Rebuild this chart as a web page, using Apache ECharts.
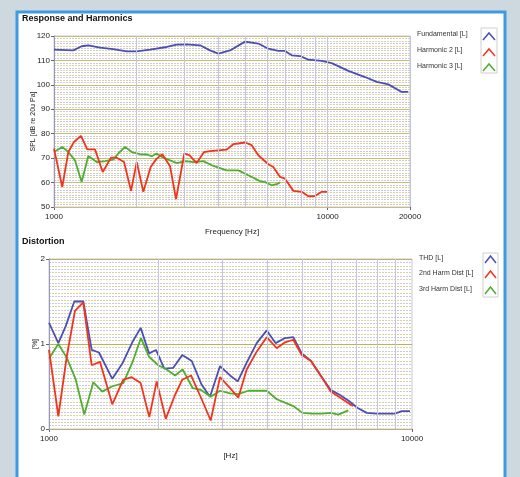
<!DOCTYPE html>
<html>
<head>
<meta charset="utf-8">
<script src="https://cdn.jsdelivr.net/npm/echarts@6/dist/echarts.min.js"></script>
<style>
html,body{margin:0;padding:0;background:#cdd8df;}
#c{width:520px;height:477px;}
</style>
</head>
<body>
<div id="c"></div>
<script>
// ---------- Response and Harmonics ----------
const fundFreq = [1000,1176,1262,1335,1473,1647,1844,2006,2243,2582,2809,3055,3418,3717,3986,4398,4990,5580,6072,6605,6988,7393,7930,8503,9515,10350,11905,13700,15120,16670,18660,19720];
const fundSpl  = [114.4,114.1,115.8,116.2,115.2,114.6,113.7,113.7,114.4,115.5,116.5,116.6,116.2,114.1,112.8,114.1,117.7,116.9,114.8,113.9,113.9,112.1,111.8,110.3,109.8,108.9,105.7,103.2,101.2,100.2,97.1,97.1];

const h2Freq = [1000,1072,1128,1183,1255,1323,1412,1507,1616,1695,1803,1912,2006,2121,2256,2373,2488,2655,2792,2995,3123,3324,3533,3717,4278,4522,4717,4990,5280,5580,6072,6333,6699,6988,7491,8042,8503,8994,9515,9975];
const h2Spl  = [73.9,58.2,72.5,76.6,79.1,73.6,73.6,64.3,70.2,70.2,68.4,56.6,68.4,56.2,66.4,69.8,71.6,66.7,53.2,71.9,71.2,68.0,72.5,72.9,73.5,75.7,76.0,76.4,75.3,71.2,67.5,66.4,62.3,61.6,56.6,56.2,54.4,54.5,56.2,56.2];

const h3Freq = [1000,1072,1128,1193,1262,1335,1432,1536,1647,1718,1818,1923,2062,2183,2276,2373,2509,2655,2809,3013,3230,3513,3822,4278,4717,5131,5661,5906,6248,6605,6699];
const h3Spl  = [72.5,74.6,72.5,69.1,60.2,70.9,68.4,68.8,69.4,71.9,74.6,72.5,71.6,71.5,70.8,71.9,70.2,69.1,68.0,68.8,68.4,68.8,66.8,65.0,65.0,63.0,60.6,60.2,58.9,59.6,60.2];

const topYTicks = [50,60,70,80,90,100,110,120];
const topXTicks = [1000,10000,20000];
const topVGrid = [2000,3000,4000,5000,6000,7000,8000,9000,10000,20000];

// ---------- Distortion ----------
const thdFreq = [1000,1061,1112,1174,1243,1311,1373,1494,1592,1696,1789,1886,1971,2078,2200,2329,2473,2634,2777,2959,3153,3311,3504,3734,3979,4212,4468,4710,4968,5270,5604,5970,6334,6706,7069,7502,7992,8978,9368,9874];
const thdPct  = [1.25,1.01,1.21,1.50,1.50,0.93,0.90,0.59,0.77,1.02,1.19,0.89,0.93,0.71,0.72,0.87,0.80,0.52,0.38,0.74,0.63,0.56,0.78,1.01,1.16,1.01,1.07,1.08,0.89,0.80,0.63,0.46,0.40,0.33,0.25,0.19,0.18,0.18,0.21,0.21];

const d2Freq = [1000,1061,1119,1179,1243,1311,1382,1494,1602,1690,1789,1889,1980,2097,2224,2329,2462,2634,2789,2959,3153,3324,3504,3734,3979,4240,4468,4710,4968,5270,5640,5970,6334,6749,6892];
const d2Pct  = [0.93,0.15,0.85,1.39,1.49,0.75,0.79,0.29,0.58,0.61,0.54,0.14,0.56,0.12,0.40,0.58,0.63,0.35,0.10,0.61,0.48,0.37,0.70,0.91,1.08,0.95,1.02,1.05,0.87,0.80,0.61,0.44,0.37,0.29,0.27];

const d3Freq = [1000,1061,1119,1185,1251,1325,1402,1489,1602,1696,1792,1886,2000,2110,2224,2335,2489,2623,2789,2959,3153,3324,3540,3734,3979,4240,4468,4710,4987,5293,5640,5983,6266,6677];
const d3Pct  = [0.83,1.00,0.84,0.58,0.17,0.55,0.44,0.50,0.54,0.78,1.07,0.85,0.75,0.70,0.63,0.70,0.48,0.46,0.38,0.45,0.42,0.41,0.45,0.45,0.45,0.35,0.31,0.27,0.19,0.18,0.18,0.19,0.17,0.22];

const botXTicks = [1000,10000];
const botVGrid = [2000,3000,4000,5000,6000,7000,8000,9000];

const zip = (a,b) => a.map((v,i)=>[v,b[i]]);

const C_BLUE = '#4b4fb4', C_RED = '#f2341e', C_GREEN = '#4fae32';
const FONT = 'Liberation Sans';
const txt = {fontFamily: FONT, fontSize: 8, color: '#222'};

function xAx(gi, ticks, maxV, name, gap){
  return {
    type:'log', logBase:10, gridIndex:gi, min:1000, max:maxV,
    name:name, nameLocation:'middle', nameGap:gap,
    nameTextStyle:{fontFamily:FONT,fontSize:8,color:'#222'},
    axisLine:{show:true,lineStyle:{color:'#9a9ab8',width:1}},
    axisTick:{show:true,length:3,lineStyle:{color:'#666'}},
    axisLabel:Object.assign({margin:6,formatter:v=>String(Math.round(v)),
      showMinLabel:true,showMaxLabel:true}, txt),
    splitLine:{show:false}
  };
}

function vLines(arr, color){
  return {
    silent:true, symbol:'none', animation:false,
    label:{show:false},
    lineStyle:{color:color,width:1,type:'solid'},
    data: arr.map(v=>({xAxis:v}))
  };
}

const chart = echarts.init(document.getElementById('c'), null, {renderer:'canvas'});
chart.setOption({
  animation:false,
  backgroundColor:'#cdd8df',
  graphic:[
    {type:'rect', z:-10, shape:{x:17,y:12,width:488,height:480},
     style:{fill:'#ffffff',stroke:'#3f9ae2',lineWidth:3}},
    {type:'text', left:22, top:14, style:{text:'Response and Harmonics',fontFamily:FONT,fontSize:9,fontWeight:'bold',fill:'#111'}},
    {type:'text', left:22, top:237, style:{text:'Distortion',fontFamily:FONT,fontSize:9,fontWeight:'bold',fill:'#111'}},
    // legend top
    {type:'rect', shape:{x:481,y:28,width:16,height:45}, style:{fill:'#fff',stroke:'#cfcfcf',lineWidth:1}},
    {type:'text', left:417, top:31, style:{text:'Fundamental [L]',fontFamily:FONT,fontSize:7,fill:'#333'}},
    {type:'text', left:417, top:47, style:{text:'Harmonic 2 [L]',fontFamily:FONT,fontSize:7,fill:'#333'}},
    {type:'text', left:417, top:63, style:{text:'Harmonic 3 [L]',fontFamily:FONT,fontSize:7,fill:'#333'}},
    {type:'polyline', shape:{points:[[483,40],[489,33],[495,40]]}, style:{stroke:C_BLUE,lineWidth:1.5,fill:null}},
    {type:'polyline', shape:{points:[[483,56],[489,49],[495,56]]}, style:{stroke:C_RED,lineWidth:1.5,fill:null}},
    {type:'polyline', shape:{points:[[483,71],[489,64],[495,71]]}, style:{stroke:C_GREEN,lineWidth:1.5,fill:null}},
    // legend bottom
    {type:'rect', shape:{x:483,y:253,width:15,height:44}, style:{fill:'#fff',stroke:'#cfcfcf',lineWidth:1}},
    {type:'text', left:419, top:255, style:{text:'THD [L]',fontFamily:FONT,fontSize:7,fill:'#333'}},
    {type:'text', left:419, top:270, style:{text:'2nd Harm Dist [L]',fontFamily:FONT,fontSize:7,fill:'#333'}},
    {type:'text', left:419, top:286, style:{text:'3rd Harm Dist [L]',fontFamily:FONT,fontSize:7,fill:'#333'}},
    {type:'polyline', shape:{points:[[485,263],[490.5,256],[496,263]]}, style:{stroke:C_BLUE,lineWidth:1.5,fill:null}},
    {type:'polyline', shape:{points:[[485,278],[490.5,271],[496,278]]}, style:{stroke:C_RED,lineWidth:1.5,fill:null}},
    {type:'polyline', shape:{points:[[485,294],[490.5,287],[496,294]]}, style:{stroke:C_GREEN,lineWidth:1.5,fill:null}}
  ],
  grid:[
    {left:54, top:36, width:356, height:171, show:true, borderColor:'#c8c8e0', borderWidth:1, backgroundColor:'transparent'},
    {left:49, top:259, width:363, height:170, show:true, borderColor:'#c8c8e0', borderWidth:1, backgroundColor:'transparent'}
  ],
  xAxis:[
    xAx(0, topXTicks, 20000, 'Frequency [Hz]', 21),
    xAx(1, botXTicks, 10000, '[Hz]', 23)
  ],
  yAxis:[
    // hidden fine grid, top
    {type:'value', gridIndex:0, position:'left', min:50, max:120, interval:1, z:0,
     axisLine:{show:false}, axisTick:{show:false}, axisLabel:{show:false},
     splitLine:{show:true,lineStyle:{color:['#d9d49a','#c9c9e6'],width:1,type:[2,1]}}},
    // main top
    {type:'value', gridIndex:0, position:'left', min:50, max:120, interval:10, z:1,
     name:'SPL [dB re 20u Pa]', nameLocation:'middle', nameGap:17, nameMoveOverlap:false,
     nameTextStyle:{fontFamily:FONT,fontSize:7,color:'#222'},
     axisLine:{show:true,lineStyle:{color:'#9a9ab8'}},
     axisTick:{show:true,length:3,lineStyle:{color:'#666'}},
     axisLabel:Object.assign({margin:4}, txt),
     splitLine:{show:true,lineStyle:{color:'#c9bf6a',width:1}}},
    // hidden fine grid, bottom
    {type:'value', gridIndex:1, position:'left', min:0, max:2, interval:0.04, z:0,
     axisLine:{show:false}, axisTick:{show:false}, axisLabel:{show:false},
     splitLine:{show:true,lineStyle:{color:['#d9d49a','#c9c9e6'],width:1,type:[2,1]}}},
    // main bottom
    {type:'value', gridIndex:1, position:'left', min:0, max:2, interval:1, z:1,
     name:'[%]', nameLocation:'middle', nameGap:10, nameMoveOverlap:false,
     nameTextStyle:{fontFamily:FONT,fontSize:7,color:'#222'},
     axisLine:{show:true,lineStyle:{color:'#9a9ab8'}},
     axisTick:{show:true,length:3,lineStyle:{color:'#666'}},
     axisLabel:Object.assign({margin:4}, txt),
     splitLine:{show:true,lineStyle:{color:'#b9b06a',width:1}}}
  ],
  series:[
    {type:'line', name:'Fundamental [L]', xAxisIndex:0, yAxisIndex:1, data:zip(fundFreq,fundSpl),
     symbol:'none', lineStyle:{color:C_BLUE,width:1.8}, z:3, markLine:vLines(topVGrid,'#c4c4de')},
    {type:'line', name:'Harmonic 3 [L]', xAxisIndex:0, yAxisIndex:1, data:zip(h3Freq,h3Spl),
     symbol:'none', lineStyle:{color:C_GREEN,width:1.8}, z:3},
    {type:'line', name:'Harmonic 2 [L]', xAxisIndex:0, yAxisIndex:1, data:zip(h2Freq,h2Spl),
     symbol:'none', lineStyle:{color:C_RED,width:1.8}, z:4},
    {type:'line', name:'THD [L]', xAxisIndex:1, yAxisIndex:3, data:zip(thdFreq,thdPct),
     symbol:'none', lineStyle:{color:C_BLUE,width:1.8}, z:3, markLine:vLines(botVGrid,'#c4c4de')},
    {type:'line', name:'3rd Harm Dist [L]', xAxisIndex:1, yAxisIndex:3, data:zip(d3Freq,d3Pct),
     symbol:'none', lineStyle:{color:C_GREEN,width:1.8}, z:3},
    {type:'line', name:'2nd Harm Dist [L]', xAxisIndex:1, yAxisIndex:3, data:zip(d2Freq,d2Pct),
     symbol:'none', lineStyle:{color:C_RED,width:1.8}, z:4}
  ]
});
</script>
</body>
</html>
